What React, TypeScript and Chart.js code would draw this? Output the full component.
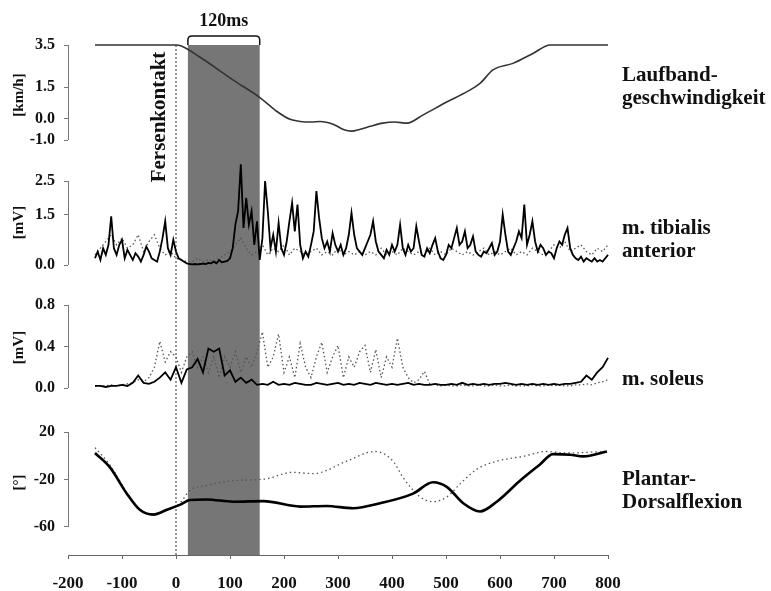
import React, { useEffect, useRef } from "react";
import { Chart, registerables } from "chart.js";

Chart.register(...registerables);

const FONT = "'Liberation Serif', 'Times New Roman', serif";

// ---- ticks ----
const xTicks = [-200, -100, 0, 100, 200, 300, 400, 500, 600, 700, 800];
const speedTicks = [3.5, 1.5, 0.0, -1.0];
const tibTicks = [2.5, 1.5, 0.0];
const solTicks = [0.8, 0.4, 0.0];
const angleTicks = [20, -20, -60];

// ---- markers ----
const contactTime = 0;
const bandStart = 22;
const bandEnd = 155;
const bandLabel = "120ms";
const contactLabel = "Fersenkontakt";

// ---- Laufbandgeschwindigkeit [km/h] ----
const speedT = [-150, 0, 10, 44, 106, 156, 187, 211, 230, 250, 267, 291, 310, 325, 340, 360, 383, 405, 428, 457, 502, 539, 563, 587, 624, 661, 693, 800];
const speedV = [3.5, 3.5, 3.45, 2.93, 1.84, 1.0, 0.35, -0.02, -0.12, -0.15, -0.12, -0.25, -0.5, -0.58, -0.5, -0.35, -0.2, -0.15, -0.2, 0.18, 0.81, 1.29, 1.68, 2.32, 2.63, 3.1, 3.5, 3.5];

// ---- m. tibialis anterior [mV], black trace, every 5 ms from -150 ----
const tibBlackStart = -150;
const tibBlackStep = 5;
const tibBlack = [
  0.2, 0.4, 0.15, 0.5, 0.3, 0.6, 1.45, 0.5, 0.3, 0.6, 0.75, 0.2, 0.45, 0.3, 0.15, 0.35, 0.25, 0.1, 0.3, 0.55,
  0.4, 0.2, 0.15, 0.1, 0.4, 0.8, 1.3, 0.5, 0.3, 0.75, 0.4, 0.2, 0.15, 0.1, 0.05, 0.03, 0.02, 0.03, 0.02, 0.03,
  0.04, 0.03, 0.06, 0.05, 0.1, 0.05, 0.15, 0.08, 0.1, 0.12, 0.2, 0.5, 1.2, 1.6, 3.0, 1.1, 2.0, 1.2, 1.6, 0.6,
  1.3, 0.15, 0.8, 2.5, 1.6, 0.5, 0.9, 0.4, 1.25, 0.5, 0.3, 0.7, 1.3, 1.85, 1.0, 1.8, 0.6, 0.2, 0.4, 0.25,
  0.6, 1.0, 2.2, 1.4, 0.8, 0.5, 0.7, 0.4, 0.95, 0.6, 0.4, 0.6, 0.3, 0.5, 0.9, 1.55, 0.9, 0.5, 0.4, 0.3,
  0.5, 0.7, 0.9, 1.3, 0.7, 0.4, 0.3, 0.2, 0.45, 0.3, 0.6, 0.4, 0.6, 1.2, 0.5, 0.3, 0.6, 0.4, 0.5, 1.15,
  0.7, 0.3, 0.25, 0.5, 0.35, 0.6, 0.8, 0.4, 0.2, 0.15, 0.3, 0.6, 0.5, 0.8, 1.1, 0.6, 0.7, 1.0, 0.5, 0.6,
  0.85, 0.4, 0.3, 0.25, 0.4, 0.35, 0.5, 0.65, 0.3, 0.4, 0.7, 1.5, 0.9, 0.4, 0.3, 0.5, 0.7, 1.0, 0.8, 1.8,
  0.6, 0.9, 1.3, 0.7, 0.4, 0.6, 0.5, 0.3, 0.4, 0.35, 0.2, 0.5, 0.7, 0.6, 0.9, 1.1, 0.5, 0.3, 0.2, 0.15,
  0.25, 0.1, 0.2, 0.15, 0.1, 0.2, 0.1, 0.15, 0.1, 0.2, 0.3,
];

// ---- m. tibialis anterior [mV], dotted trace, every 10 ms from -150 ----
const emgStart = -150;
const emgStep = 10;
const tibDotted = [
  0.3, 0.5, 0.7, 0.9, 0.6, 0.8, 0.5, 0.6, 0.9, 0.4,
  0.7, 0.9, 0.5, 0.3, 0.4, 0.2, 0.15, 0.1, 0.1, 0.2,
  0.1, 0.15, 0.1, 0.2, 0.3, 0.4, 0.6, 0.8, 0.5, 0.3,
  0.4, 0.6, 0.3, 0.5, 0.4, 0.6, 0.3, 0.5, 0.4, 0.3,
  0.4, 0.5, 0.3, 0.4, 0.3, 0.5, 0.3, 0.4, 0.3, 0.4,
  0.3, 0.4, 0.3, 0.5, 0.3, 0.4, 0.3, 0.5, 0.4, 0.3,
  0.4, 0.3, 0.5, 0.3, 0.4, 0.3, 0.5, 0.4, 0.3, 0.4,
  0.3, 0.4, 0.5, 0.3, 0.4, 0.3, 0.4, 0.5, 0.3, 0.4,
  0.3, 0.5, 0.4, 0.3, 0.4, 0.6, 0.5, 0.7, 0.4, 0.5,
  0.6, 0.4, 0.3, 0.5, 0.4, 0.6,
];

// ---- m. soleus [mV], every 10 ms from -150 ----
const solBlack = [
  0.02, 0.02, 0.01, 0.02, 0.02, 0.03, 0.02, 0.05, 0.12, 0.05,
  0.04, 0.06, 0.1, 0.15, 0.08, 0.2, 0.05, 0.18, 0.2, 0.28,
  0.15, 0.38, 0.35, 0.38, 0.12, 0.17, 0.06, 0.1, 0.05, 0.08,
  0.03, 0.04, 0.03, 0.06, 0.03, 0.04, 0.03, 0.05, 0.04, 0.03,
  0.03, 0.05, 0.04, 0.03, 0.04, 0.05, 0.03, 0.04, 0.03, 0.05,
  0.04, 0.03, 0.05, 0.04, 0.03, 0.04, 0.03, 0.04, 0.05, 0.03,
  0.04, 0.03, 0.03, 0.04, 0.03, 0.03, 0.04, 0.03, 0.05, 0.03,
  0.04, 0.03, 0.04, 0.03, 0.04, 0.04, 0.05, 0.04, 0.03, 0.04,
  0.03, 0.04, 0.03, 0.04, 0.03, 0.04, 0.03, 0.04, 0.04, 0.05,
  0.06, 0.12, 0.08, 0.15, 0.2, 0.29,
];
const solDotted = [
  0.02, 0.02, 0.02, 0.03, 0.02, 0.03, 0.04, 0.05, 0.08, 0.06,
  0.1, 0.2, 0.45, 0.25, 0.35, 0.3, 0.15, 0.3, 0.35, 0.2,
  0.3, 0.15, 0.3, 0.1, 0.3, 0.2, 0.35, 0.15, 0.3, 0.2,
  0.35, 0.54, 0.2, 0.3, 0.52, 0.15, 0.3, 0.1, 0.43, 0.2,
  0.1, 0.3, 0.44, 0.15, 0.3, 0.41, 0.1, 0.3, 0.2, 0.35,
  0.41, 0.15, 0.37, 0.1, 0.3, 0.2, 0.48, 0.2, 0.1, 0.05,
  0.08, 0.16, 0.04, 0.03, 0.02, 0.03, 0.02, 0.02, 0.03, 0.02,
  0.02, 0.03, 0.02, 0.02, 0.03, 0.02, 0.02, 0.03, 0.02, 0.02,
  0.02, 0.03, 0.02, 0.02, 0.03, 0.02, 0.03, 0.02, 0.02, 0.03,
  0.03, 0.04, 0.03, 0.05, 0.06, 0.08,
];

// ---- Plantar-/Dorsalflexion [°] ----
const angleBlackT = [-150, -122, -91, -67, -42, -17, 7, 26, 57, 106, 162, 230, 279, 328, 378, 439, 476, 502, 532, 563, 594, 637, 674, 698, 730, 754, 798];
const angleBlackV = [2.3, -10, -31.9, -45.5, -49.6, -45.5, -41.4, -37.3, -36.8, -38.7, -38.2, -42.8, -42.3, -44.2, -40, -31.9, -22.3, -26.4, -40, -46.9, -38.7, -21, -7.3, 1.4, 0.9, -0.5, 3.6];
const angleDotT = [-150, -122, -91, -67, -42, -17, 7, 26, 57, 106, 165, 215, 255, 316, 368, 402, 420, 452, 476, 502, 526, 557, 594, 643, 686, 720, 798];
const angleDotV = [6.9, -8, -31, -45, -49, -46, -40, -29, -25, -21, -19.6, -14, -15, -4.6, 3.6, -4.6, -18, -34.6, -38.7, -34.6, -23.7, -11.4, -4.6, -0.5, 3.6, 2.3, 3.6];

const pairs = (ts: number[], vs: number[]) => ts.map((t, i) => ({ x: t, y: vs[i] }));
const stepped = (start: number, step: number, vs: number[]) => vs.map((v, i) => ({ x: start + i * step, y: v }));

const bold = (size: number) => ({ family: FONT, size, weight: "bold" as const });

const setTicks = (vals: number[]) => (s: any) => {
  s.ticks = vals.map((v) => ({ value: v }));
};

function yAxis(title: string, ticks: number[], min: number, max: number, stackWeight: number, weight: number, digits: number) {
  return {
    type: "linear" as const,
    position: "left" as const,
    stack: "panels",
    stackWeight,
    weight,
    min,
    max,
    afterBuildTicks: setTicks(ticks),
    afterFit: (s: any) => {
      s.width = 68;
    },
    ticks: {
      autoSkip: false,
      padding: 9,
      color: "#111",
      font: bold(16),
      callback: (v: any) => Number(v).toFixed(digits),
    },
    grid: { display: true, drawOnChartArea: false, drawTicks: true, tickLength: 4, color: "#777" },
    border: { display: false },
    title: { display: true, text: title, color: "#111", font: bold(15), padding: { top: 10, bottom: 0 } },
  };
}

const axisRanges: [string, number[]][] = [
  ["ySpeed", speedTicks],
  ["yTib", tibTicks],
  ["ySol", solTicks],
  ["yAngle", angleTicks],
];

const overlay = {
  id: "overlay",
  beforeDatasetsDraw(chart: any) {
    const { ctx, chartArea, scales } = chart;
    const xs = scales.x;
    const top = scales.ySpeed.getPixelForValue(3.5);
    const x0 = xs.getPixelForValue(bandStart);
    const x1 = xs.getPixelForValue(bandEnd);
    ctx.save();
    ctx.fillStyle = "#767676";
    ctx.fillRect(x0, top, x1 - x0, chartArea.bottom - top);
    const xc = xs.getPixelForValue(contactTime);
    ctx.strokeStyle = "#333";
    ctx.lineWidth = 1;
    ctx.setLineDash([2, 2]);
    ctx.beginPath();
    ctx.moveTo(xc, top);
    ctx.lineTo(xc, chartArea.bottom);
    ctx.stroke();
    ctx.restore();
  },
  afterDraw(chart: any) {
    const { ctx, chartArea, scales } = chart;
    const xs = scales.x;
    ctx.save();
    // y-axis lines over labelled range
    ctx.strokeStyle = "#777";
    ctx.lineWidth = 1;
    for (const [id, t] of axisRanges) {
      const s = scales[id];
      const yA = s.getPixelForValue(Math.max(...t));
      const yB = s.getPixelForValue(Math.min(...t));
      ctx.beginPath();
      ctx.moveTo(s.right + 0.5, yA);
      ctx.lineTo(s.right + 0.5, yB);
      ctx.stroke();
    }
    // bracket
    const x0 = xs.getPixelForValue(bandStart);
    const x1 = xs.getPixelForValue(bandEnd);
    const bandTop = scales.ySpeed.getPixelForValue(3.5);
    const by = bandTop - 9;
    const r = 4;
    ctx.strokeStyle = "#111";
    ctx.lineWidth = 1.5;
    ctx.beginPath();
    ctx.moveTo(x0, bandTop);
    ctx.lineTo(x0, by + r);
    ctx.quadraticCurveTo(x0, by, x0 + r, by);
    ctx.lineTo(x1 - r, by);
    ctx.quadraticCurveTo(x1, by, x1, by + r);
    ctx.lineTo(x1, bandTop);
    ctx.stroke();
    ctx.fillStyle = "#111";
    ctx.font = `bold 18px ${FONT}`;
    ctx.textAlign = "center";
    ctx.textBaseline = "middle";
    ctx.fillText(bandLabel, (x0 + x1) / 2, by - 15);
    // Fersenkontakt
    const xc = xs.getPixelForValue(contactTime);
    ctx.save();
    ctx.translate(xc - 16, bandTop + 72);
    ctx.rotate(-Math.PI / 2);
    ctx.font = `bold 21px ${FONT}`;
    ctx.fillText(contactLabel, 0, 0);
    ctx.restore();
    // right-hand labels
    ctx.font = `bold 21px ${FONT}`;
    ctx.textAlign = "left";
    const lx = chartArea.right + 14;
    const labels: [string, number, string[]][] = [
      ["ySpeed", 1.5, ["Laufband-", "geschwindigkeit"]],
      ["yTib", 0.74, ["m. tibialis", "anterior"]],
      ["ySol", 0.08, ["m. soleus"]],
      ["yAngle", -29.7, ["Plantar-", "Dorsalflexion"]],
    ];
    for (const [id, v, lines] of labels) {
      const cy = scales[id].getPixelForValue(v);
      const lh = 23;
      const start = cy - ((lines.length - 1) * lh) / 2;
      lines.forEach((ln, i) => ctx.fillText(ln, lx, start + i * lh));
    }
    ctx.restore();
  },
};

export default function App() {
  const ref = useRef<HTMLCanvasElement>(null);
  useEffect(() => {
    const lineBase = { pointRadius: 0, fill: false, clip: false as any };
    const chart = new Chart(ref.current!, {
      type: "line",
      data: {
        datasets: [
          { ...lineBase, data: pairs(speedT, speedV), yAxisID: "ySpeed", borderColor: "#333", borderWidth: 1.6, cubicInterpolationMode: "monotone" },
          { ...lineBase, data: stepped(tibBlackStart, tibBlackStep, tibBlack), yAxisID: "yTib", borderColor: "#000", borderWidth: 1.8, tension: 0 },
          { ...lineBase, data: stepped(emgStart, emgStep, tibDotted), yAxisID: "yTib", borderColor: "#555", borderWidth: 1.3, borderDash: [1.5, 2.5], tension: 0 },
          { ...lineBase, data: stepped(emgStart, emgStep, solBlack), yAxisID: "ySol", borderColor: "#000", borderWidth: 1.8, tension: 0 },
          { ...lineBase, data: stepped(emgStart, emgStep, solDotted), yAxisID: "ySol", borderColor: "#555", borderWidth: 1.3, borderDash: [1.5, 2.5], tension: 0 },
          { ...lineBase, data: pairs(angleBlackT, angleBlackV), yAxisID: "yAngle", borderColor: "#000", borderWidth: 2.6, cubicInterpolationMode: "monotone" },
          { ...lineBase, data: pairs(angleDotT, angleDotV), yAxisID: "yAngle", borderColor: "#555", borderWidth: 1.3, borderDash: [1.5, 3], cubicInterpolationMode: "monotone" },
        ] as any,
      },
      options: {
        responsive: false,
        animation: false,
        events: [],
        layout: { padding: { top: 30, right: 163, bottom: 0, left: 0 } },
        plugins: { legend: { display: false }, tooltip: { enabled: false } },
        scales: {
          x: {
            type: "linear",
            position: "bottom",
            min: -200,
            max: 800,
            afterBuildTicks: setTicks(xTicks),
            afterFit: (s: any) => {
              s.height = 36;
            },
            ticks: { autoSkip: false, maxRotation: 0, padding: 14, color: "#111", font: bold(17) },
            grid: { display: true, drawOnChartArea: false, drawTicks: true, tickLength: 4, color: "#666" },
            border: { display: true, color: "#666", width: 1 },
          },
          ySpeed: yAxis("[km/h]", speedTicks, -1.947, 4.2105, 130, 4, 1),
          yTib: yAxis("[mV]", tibTicks, -0.595, 3.125, 125, 3, 1),
          ySol: yAxis("[mV]", solTicks, -0.212, 0.9928, 125, 2, 1),
          yAngle: yAxis("[°]", angleTicks, -83.58, 38.53, 145, 1, 0),
        } as any,
      },
      plugins: [overlay],
    });
    return () => chart.destroy();
  }, []);
  return (
    <div style={{ position: "absolute", left: 0, top: 0, width: 771, height: 591, background: "#fff" }}>
      <canvas ref={ref} width={771} height={591} style={{ display: "block" }} />
    </div>
  );
}
